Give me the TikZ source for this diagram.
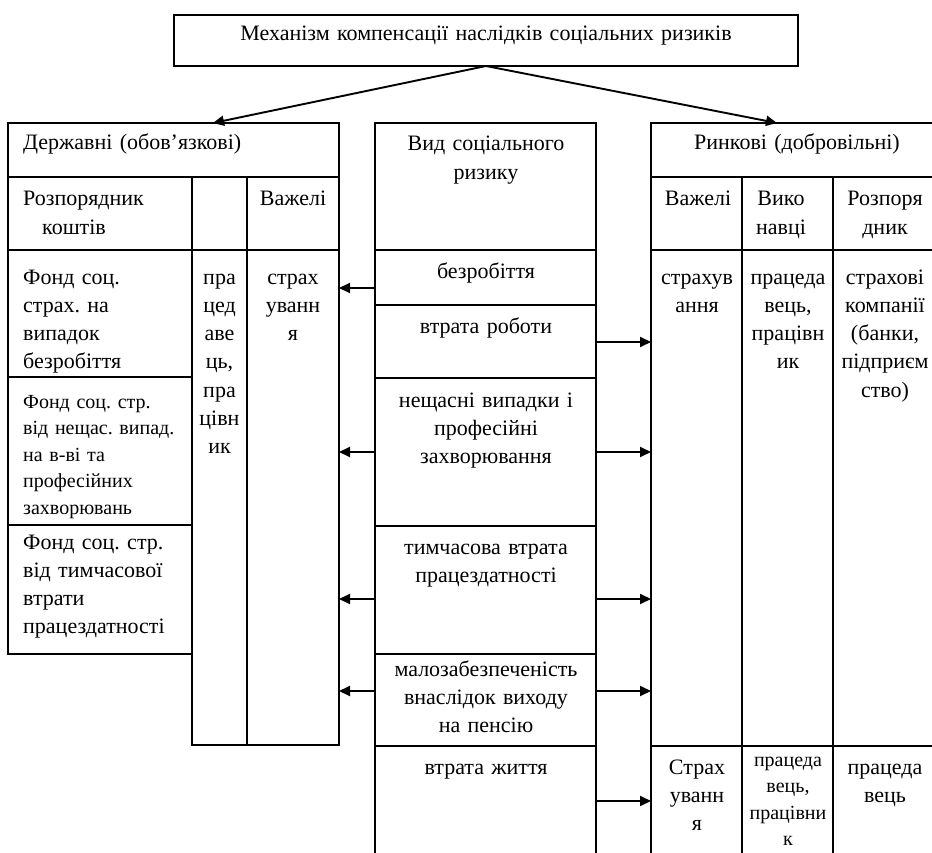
\documentclass[tikz,border=0pt]{standalone}
\usepackage{fontspec}
\setmainfont{Liberation Serif}
\usetikzlibrary{arrows.meta}

% a framed cell given by its top-left and bottom-right corners
\newcommand\cellbox[5]{%
  \node[frame, anchor=north west,
        minimum width={(#4-#2)*1pt}, minimum height={(#5-#3)*1pt}] (#1) at (#2,#3) {};}

\tikzset{
  frame/.style={draw, line width=1.9pt, inner sep=0pt, outer sep=0pt},
  link/.style={draw, line width=1.9pt, -{Triangle[length=11pt,width=10pt]}},
  big/.style={font=\fontsize{22}{28.3}\selectfont\frenchspacing},
  small/.style={font=\fontsize{20}{26.6}\selectfont\frenchspacing},
  ctext/.style={inner sep=0pt, text width=#1, align=center, anchor=base},
  ctext/.default=100pt,
  ltext/.style={inner sep=0pt, text width=#1, align=left, anchor=base west},
  ltext/.default=180pt,
}

\begin{document}
\begin{tikzpicture}[x=1pt, y=-1pt]
\fill[white] (0,0) rectangle (932,853);
\useasboundingbox (0,0) rectangle (932,853);
\clip (0,0) rectangle (932,853);

% title
\cellbox{top}{174}{15}{798}{66}

% state (compulsory) block
\cellbox{sHead}{8}{123}{339}{177}
\cellbox{sSub1}{8}{177}{192}{250}
\cellbox{sSub2}{192}{177}{247}{250}
\cellbox{sSub3}{247}{177}{339}{250}
\cellbox{sF1}{8}{250}{192}{377}
\cellbox{sF2}{8}{377}{192}{525}
\cellbox{sF3}{8}{525}{192}{654}
\cellbox{sPay}{192}{250}{247}{745}
\cellbox{sLev}{247}{250}{339}{745}

% kinds of social risk
\cellbox{mHead}{375}{123}{596}{250}
\cellbox{m1}{375}{250}{596}{305}
\cellbox{m2}{375}{305}{596}{378}
\cellbox{m3}{375}{378}{596}{526}
\cellbox{m4}{375}{526}{596}{654}
\cellbox{m5}{375}{654}{596}{746}
\cellbox{m6}{375}{746}{596}{856}

% market (voluntary) block
\cellbox{rHead}{651}{123}{943}{177}
\cellbox{rSub1}{651}{177}{742}{250}
\cellbox{rSub2}{742}{177}{833}{250}
\cellbox{rSub3}{833}{177}{943}{250}
\cellbox{rLev}{651}{250}{742}{746}
\cellbox{rPay}{742}{250}{833}{746}
\cellbox{rOrg}{833}{250}{943}{746}
\cellbox{rLev2}{651}{746}{742}{856}
\cellbox{rPay2}{742}{746}{833}{856}
\cellbox{rOrg2}{833}{746}{943}{856}

% texts
\node[big, ctext=600pt] (tTop) at (486,41) {Механізм компенсації наслідків соціальних ризиків};

\node[big, ltext=310pt] (tS) at (23,150) {Державні (обов’язкові)};
\node[big, ltext] (tS1) at (23,206) {Розпорядник\\\hspace*{19pt}коштів};
\node[big, ctext=90pt] (tS3) at (293,206) {Важелі};
\node[big, ltext] (tF1) at (23,284) {Фонд соц.\\страх. на\\випадок\\безробіття};
\node[big, ctext=60pt] (tPay) at (219.5,284) {пра\\цед\\аве\\ць,\\пра\\цівн\\ик};
\node[big, ctext=90pt] (tLev) at (293,284) {страх\\уванн\\я};
\node[small, ltext] (tF2) at (23,408) {Фонд соц. стр.\\від нещас. випад.\\на в-ві та\\професійних\\захворювань};
\node[big, ltext] (tF3) at (23,549) {Фонд соц. стр.\\від тимчасової\\втрати\\працездатності};

\node[big, ctext=220pt] (tM0) at (486,151) {Вид соціального\\ризику};
\node[big, ctext=220pt] (tM1) at (486,279) {безробіття};
\node[big, ctext=220pt] (tM2) at (486,333) {втрата роботи};
\node[big, ctext=220pt] (tM3) at (486,407) {нещасні випадки і\\професійні\\захворювання};
\node[big, ctext=220pt] (tM4) at (486,554) {тимчасова втрата\\працездатності};
\node[big, ctext=220pt] (tM5) at (486,676) {малозабезпеченість\\внаслідок виходу\\на пенсію};
\node[big, ctext=220pt] (tM6) at (486,774) {втрата життя};

\node[big, ctext=280pt] (tR) at (797,150) {Ринкові (добровільні)};
\node[big, ctext=90pt] (tR1) at (698,206) {Важелі};
\node[big, ctext=90pt] (tR2) at (781,206) {Вико\\навці};
\node[big, ctext=110pt] (tR3) at (885,206) {Розпоря\\дник};
\node[big, ctext=90pt] (tRL) at (697,284) {страхув\\ання};
\node[big, ctext=90pt] (tRP) at (788,284) {працеда\\вець,\\працівн\\ик};
\node[big, ctext=110pt] (tRO) at (885,284) {страхові\\компанії\\(банки,\\підприєм\\ство)};
\node[big, ctext=90pt] (tRL2) at (697,774) {Страх\\уванн\\я};
\node[small, ctext=90pt] (tRP2) at (788,766) {працеда\\вець,\\працівни\\к};
\node[big, ctext=110pt] (tRO2) at (885,774) {працеда\\вець};

% connectors from the title
\coordinate (tipL) at ([xshift=39.5pt]sHead.north);
\coordinate (tipR) at ([xshift=-20pt]rHead.north);
\draw[link] (top.south) -- (tipL);
\draw[link] (top.south) -- (tipR);

% connectors to the state block
\coordinate (l1) at ([yshift=-10.5pt]m1.west);
\coordinate (l3) at (m3.west);
\coordinate (l4) at ([yshift=-9pt]m4.west);
\coordinate (l5) at ([yshift=9pt]m5.west);
\draw[link] (l1) -- (l1 -| sLev.east);
\draw[link] (l3) -- (l3 -| sLev.east);
\draw[link] (l4) -- (l4 -| sLev.east);
\draw[link] (l5) -- (l5 -| sLev.east);

% connectors to the market block
\coordinate (r2) at ([yshift=-0.5pt]m2.east);
\coordinate (r3) at (m3.east);
\coordinate (r4) at ([yshift=-9pt]m4.east);
\coordinate (r5) at ([yshift=9pt]m5.east);
\coordinate (r6) at (m6.east);
\draw[link] (r2) -- (r2 -| rLev.west);
\draw[link] (r3) -- (r3 -| rLev.west);
\draw[link] (r4) -- (r4 -| rLev.west);
\draw[link] (r5) -- (r5 -| rLev.west);
\draw[link] (r6) -- (r6 -| rLev.west);
\end{tikzpicture}
\end{document}
